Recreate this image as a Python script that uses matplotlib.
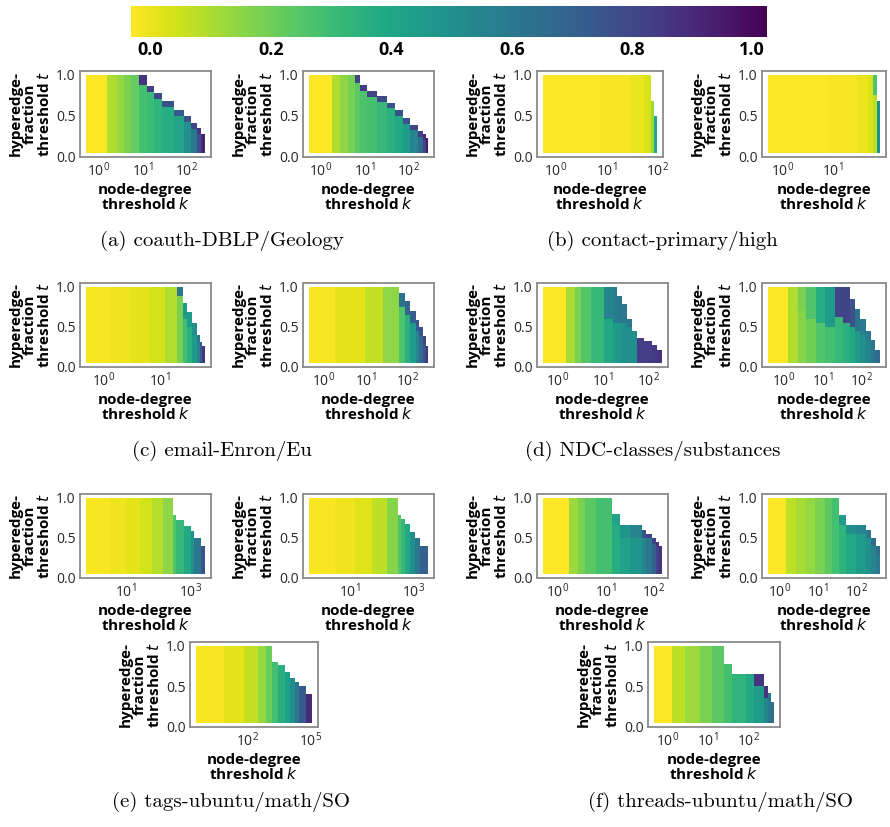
import numpy as np
import matplotlib
matplotlib.use("Agg")
import matplotlib.pyplot as plt
from matplotlib.cm import ScalarMappable
from matplotlib.colors import Normalize
from matplotlib.ticker import NullLocator, FormatStrFormatter

plt.rcParams["font.family"] = ["Open Sans", "DejaVu Sans"]
plt.rcParams["mathtext.fontset"] = "dejavusans"

# ---- data: column edges in k, top threshold t per column, values below / in the upper band
# (a) coauth-DBLP
dblp_k = [0.51, 1.52, 2.56, 3.7, 5.33, 8.5, 13, 18.7, 28.5, 53, 90, 130, 178, 219, 270]
dblp_top = [1, 1, 1, 1, 1, 1, 0.86, 0.78, 0.68, 0.57, 0.49, 0.41, 0.35, 0.27]
dblp_lo = [0.0, 0.12, 0.16, 0.2, 0.24, 0.3, 0.32, 0.35, 0.38, 0.42, 0.5, 0.6, 0.75, 0.9]
dblp_hi = [0.0, 0.12, 0.16, 0.2, 0.24, 0.85, 0.82, 0.78, 0.75, 0.72, 0.75, 0.8, 0.85, 0.9]
dblp_split = [1, 1, 1, 1, 1, 0.88, 0.79, 0.7, 0.6, 0.5, 0.42, 0.34, 0.28, 0.2]

# (a) coauth-Geology
geo_k = [0.53, 1.78, 2.7, 4.1, 5.9, 7.7, 11.1, 18.7, 31.6, 48, 73, 105, 160, 208, 250, 277]
geo_top = [1, 1, 1, 1, 1, 0.88, 0.8, 0.74, 0.66, 0.57, 0.47, 0.39, 0.31, 0.27, 0.22]
geo_lo = [0.0, 0.12, 0.17, 0.21, 0.25, 0.28, 0.3, 0.33, 0.36, 0.4, 0.45, 0.55, 0.65, 0.8, 0.92]
geo_hi = [0.0, 0.12, 0.17, 0.21, 0.8, 0.82, 0.8, 0.78, 0.75, 0.75, 0.75, 0.8, 0.82, 0.88, 0.92]
geo_split = [1, 1, 1, 1, 0.9, 0.8, 0.73, 0.67, 0.59, 0.5, 0.4, 0.32, 0.24, 0.2, 0.15]

# (b) contact-primary
prim_k = [0.56, 7.5, 28.6, 56, 76, 87, 100]
prim_top = [1, 1, 1, 1, 0.68, 0.5]
prim_lo = [0.0, 0.01, 0.03, 0.06, 0.15, 0.4]

# (b) contact-high
high_k = [0.5, 8, 30, 50, 62, 75, 88]
high_top = [1, 1, 1, 1, 1, 0.68]
high_lo = [0.0, 0.01, 0.03, 0.06, 0.1, 0.5]
high_hi = [0.0, 0.01, 0.03, 0.06, 0.28, 0.5]
high_split = [1, 1, 1, 1, 0.75, 1]

# (c) email-Enron
enron_k = [0.47, 1.29, 2.97, 6.85, 12.8, 21, 27.3, 32.3, 39.8, 49, 55.6, 60.5, 67.4]
enron_top = [1, 1, 1, 1, 1, 1, 0.8, 0.68, 0.54, 0.39, 0.31, 0.25]
enron_lo = [0.01, 0.02, 0.04, 0.07, 0.12, 0.2, 0.3, 0.36, 0.45, 0.55, 0.7, 0.85]
enron_hi = [0.01, 0.02, 0.04, 0.07, 0.12, 0.6, 0.45, 0.45, 0.5, 0.6, 0.72, 0.85]
enron_split = [1, 1, 1, 1, 1, 0.88, 0.6, 0.5, 0.4, 0.3, 0.2, 0.15]

# (c) email-Eu
eu_k = [0.46, 1.93, 10, 26.8, 61, 89, 117, 155, 183, 228, 268, 305]
eu_top = [1, 1, 1, 1, 0.92, 0.82, 0.7, 0.58, 0.5, 0.38, 0.25]
eu_lo = [0.01, 0.04, 0.09, 0.17, 0.28, 0.36, 0.45, 0.55, 0.65, 0.75, 0.85]
eu_hi = [0.01, 0.04, 0.09, 0.17, 0.62, 0.68, 0.7, 0.72, 0.75, 0.8, 0.85]
eu_split = [1, 1, 1, 1, 0.75, 0.65, 0.55, 0.45, 0.38, 0.28, 0.15]

# (d) NDC-classes
cls_k = [0.49, 1.52, 2.47, 3.32, 5.4, 10.3, 16.7, 20.3, 26, 33, 42, 54, 80, 118, 151, 193]
cls_top = [1, 1, 1, 1, 1, 1, 1, 0.88, 0.78, 0.6, 0.45, 0.36, 0.32, 0.27, 0.2]
cls_lo = [0.0, 0.13, 0.2, 0.27, 0.33, 0.4, 0.45, 0.47, 0.5, 0.5, 0.5, 0.82, 0.82, 0.83, 0.85]
cls_hi = [0.0, 0.13, 0.2, 0.27, 0.33, 0.55, 0.58, 0.6, 0.6, 0.6, 0.5, 0.82, 0.82, 0.83, 0.85]
cls_split = [1, 1, 1, 1, 1, 0.6, 0.55, 0.55, 0.55, 0.5, 1, 1, 1, 1, 1]

# (d) NDC-substances
sub_k = [0.4, 1.33, 2.37, 3.76, 6.7, 11.9, 21, 33.5, 50, 66.8, 89, 126, 168, 224, 298]
sub_top = [1, 1, 1, 1, 1, 1, 1, 1, 0.85, 0.72, 0.6, 0.45, 0.33, 0.2]
sub_lo = [0.0, 0.12, 0.18, 0.22, 0.27, 0.3, 0.33, 0.36, 0.4, 0.45, 0.5, 0.55, 0.6, 0.65]
sub_hi = [0.0, 0.12, 0.2, 0.28, 0.38, 0.45, 0.8, 0.8, 0.75, 0.62, 0.58, 0.6, 0.62, 0.65]
sub_split = [1, 1, 0.7, 0.6, 0.55, 0.5, 0.62, 0.55, 0.5, 0.45, 0.4, 0.35, 0.25, 0.15]

# (e) tags-ubuntu / tags-math / tags-SO
tub_k = [0.63, 3.45, 10, 28.9, 67.7, 137, 280, 346, 607, 1000, 1240, 2040, 2720]
tub_top = [1, 1, 1, 1, 1, 1, 0.78, 0.72, 0.64, 0.58, 0.5, 0.4]
tub_lo = [0.01, 0.02, 0.04, 0.07, 0.11, 0.17, 0.27, 0.33, 0.4, 0.5, 0.6, 0.75]

tma_k = [0.52, 3.4, 14.7, 50.6, 150, 334, 415, 557, 800, 1150, 1650, 2950]
tma_top = [1, 1, 1, 1, 1, 0.785, 0.73, 0.67, 0.57, 0.49, 0.39]
tma_lo = [0.01, 0.02, 0.05, 0.1, 0.18, 0.27, 0.33, 0.4, 0.5, 0.6, 0.7]

tso_k = [0.34, 7.7, 71, 305, 740, 1450, 2800, 6100, 10600, 18600, 29300, 64000, 125000]
tso_top = [1, 1, 1, 1, 1, 0.8, 0.76, 0.68, 0.6, 0.55, 0.5, 0.4]
tso_lo = [0.01, 0.04, 0.09, 0.16, 0.23, 0.3, 0.37, 0.43, 0.5, 0.6, 0.72, 0.88]

# (f) threads-ubuntu / threads-math / threads-SO
thu_k = [0.49, 1.68, 2.68, 3.72, 6.25, 13.9, 20.2, 32.3, 59.5, 71.9, 95.3, 115, 133, 153]
thu_top = [1, 1, 1, 1, 1, 0.8, 0.66, 0.66, 0.6, 0.55, 0.5, 0.45, 0.4]
thu_lo = [0.0, 0.15, 0.2, 0.25, 0.3, 0.38, 0.42, 0.48, 0.55, 0.6, 0.7, 0.8, 0.85]
thu_hi = [0.0, 0.15, 0.2, 0.25, 0.3, 0.42, 0.48, 0.55, 0.75, 0.8, 0.82, 0.85, 0.85]
thu_split = [1, 1, 1, 1, 1, 0.66, 0.5, 0.5, 0.5, 0.5, 0.42, 0.38, 0.35]

thm_k = [0.5, 1.5, 2.66, 4.7, 8.4, 15, 23.7, 35.5, 53, 100, 178, 237, 316, 420]
thm_top = [1, 1, 1, 1, 1, 1, 1, 0.785, 0.66, 0.66, 0.6, 0.5, 0.4]
thm_lo = [0.0, 0.1, 0.13, 0.16, 0.2, 0.25, 0.3, 0.35, 0.4, 0.45, 0.5, 0.55, 0.6]
thm_hi = [0.0, 0.1, 0.13, 0.16, 0.2, 0.25, 0.3, 0.45, 0.5, 0.55, 0.6, 0.65, 0.65]
thm_split = [1, 1, 1, 1, 1, 1, 1, 0.66, 0.55, 0.55, 0.5, 0.4, 0.3]

tsx_k = [0.47, 1.33, 2.66, 6.3, 12.6, 25, 39.8, 84, 133, 237, 300, 355, 420]
tsx_top = [1, 1, 1, 1, 1, 0.77, 0.65, 0.65, 0.65, 0.5, 0.42, 0.3]
tsx_lo = [0.0, 0.1, 0.15, 0.2, 0.25, 0.3, 0.35, 0.4, 0.45, 0.55, 0.6, 0.65]
tsx_hi = [0.0, 0.1, 0.15, 0.2, 0.25, 0.3, 0.35, 0.4, 0.85, 0.85, 0.6, 0.65]
tsx_split = [1, 1, 1, 1, 1, 1, 1, 1, 0.5, 0.35, 1, 1]

captions = ["(a) coauth-DBLP/Geology", "(b) contact-primary/high",
            "(c) email-Enron/Eu", "(d) NDC-classes/substances",
            "(e) tags-ubuntu/math/SO", "(f) threads-ubuntu/math/SO"]
cbar_ticks = [0.0, 0.2, 0.4, 0.6, 0.8, 1.0]

T0 = 0.04
W, H = 890, 827
fig = plt.figure(figsize=(W / 100, H / 100), dpi=100)


def add_ax(l, r, t, b):
    return fig.add_axes([l / W, 1 - b / H, (r - l) / W, (b - t) / H])


def heat(ax, k, top, lo, hi=None, split=None, xt=(1, 10, 100)):
    hi = lo if hi is None else hi
    split = [1.0] * len(lo) if split is None else split
    t = sorted(set([T0] + list(top) + [s for s in split if s < 1]))
    z = np.full((len(t) - 1, len(lo)), np.nan)
    for j in range(len(lo)):
        for i in range(len(t) - 1):
            mid = 0.5 * (t[i] + t[i + 1])
            if mid < top[j]:
                z[i, j] = hi[j] if mid > split[j] else lo[j]
    ax.set_xscale("log")
    ax.pcolormesh(k, t, np.ma.masked_invalid(z), cmap="viridis_r", vmin=0, vmax=1)
    a, b = np.log10(k[0]), np.log10(k[-1])
    ax.set_xlim(10 ** (a - 0.05 * (b - a)), 10 ** (b + 0.05 * (b - a)))
    ax.set_ylim(T0 - 0.05 * (1 - T0), 1 + 0.05 * (1 - T0))
    ax.set_xticks(xt)
    ax.xaxis.set_minor_locator(NullLocator())
    ax.set_yticks([0, 0.5, 1.0])
    ax.yaxis.set_major_formatter(FormatStrFormatter("%.1f"))
    ax.tick_params(length=0, labelsize=10, colors="#262626", pad=3)
    for s in ax.spines.values():
        s.set_color("#8a8a8a")
        s.set_linewidth(1.3)
    ax.set_xlabel("node-degree\nthreshold $k$", fontsize=11, fontweight="bold",
                  linespacing=0.95, labelpad=2)
    ax.set_ylabel("hyperedge-\nfraction\nthreshold $t$", fontsize=11,
                  fontweight="bold", linespacing=0.95, labelpad=3)


heat(add_ax(80, 211, 71, 157), dblp_k, dblp_top, dblp_lo, dblp_hi, dblp_split)
heat(add_ax(303, 434, 71, 157), geo_k, geo_top, geo_lo, geo_hi, geo_split)
heat(add_ax(537, 663, 71, 157), prim_k, prim_top, prim_lo)
heat(add_ax(762, 886, 71, 157), high_k, high_top, high_lo, high_hi, high_split, xt=(1, 10))

heat(add_ax(80, 211, 283, 367), enron_k, enron_top, enron_lo, enron_hi, enron_split, xt=(1, 10))
heat(add_ax(303, 434, 283, 367), eu_k, eu_top, eu_lo, eu_hi, eu_split)
heat(add_ax(537, 668, 283, 367), cls_k, cls_top, cls_lo, cls_hi, cls_split)
heat(add_ax(762, 886, 283, 367), sub_k, sub_top, sub_lo, sub_hi, sub_split)

heat(add_ax(80, 211, 494, 578), tub_k, tub_top, tub_lo, xt=(10, 1000))
heat(add_ax(303, 434, 494, 578), tma_k, tma_top, tma_lo, xt=(10, 1000))
heat(add_ax(537, 668, 494, 578), thu_k, thu_top, thu_lo, thu_hi, thu_split)
heat(add_ax(762, 886, 494, 578), thm_k, thm_top, thm_lo, thm_hi, thm_split)

heat(add_ax(190, 318, 642, 727), tso_k, tso_top, tso_lo, xt=(100, 1e5))
heat(add_ax(648, 780, 642, 727), tsx_k, tsx_top, tsx_lo, tsx_hi, tsx_split)

# subfigure captions
cap_xy = [(222, 241), (662, 241), (222, 451), (653, 451), (231, 802), (720, 802)]
for txt, (x, y) in zip(captions, cap_xy):
    fig.text(x / W, 1 - y / H, txt, family="cmr10", fontsize=15, ha="center", va="center")

# shared colour bar
cax = add_ax(131, 767, 6, 37)
cb = fig.colorbar(ScalarMappable(Normalize(0, 1), cmap="viridis_r"), cax=cax,
                  orientation="horizontal")
cb.outline.set_visible(False)
cb.set_ticks([])
for v, x in zip(cbar_ticks, [150, 271, 391, 512, 632, 752]):
    fig.text(x / W, 1 - 50 / H, f"{v:.1f}", fontsize=13, fontweight="bold",
             fontstretch="condensed", ha="center", va="center")

fig.savefig("out.png", dpi=100)
